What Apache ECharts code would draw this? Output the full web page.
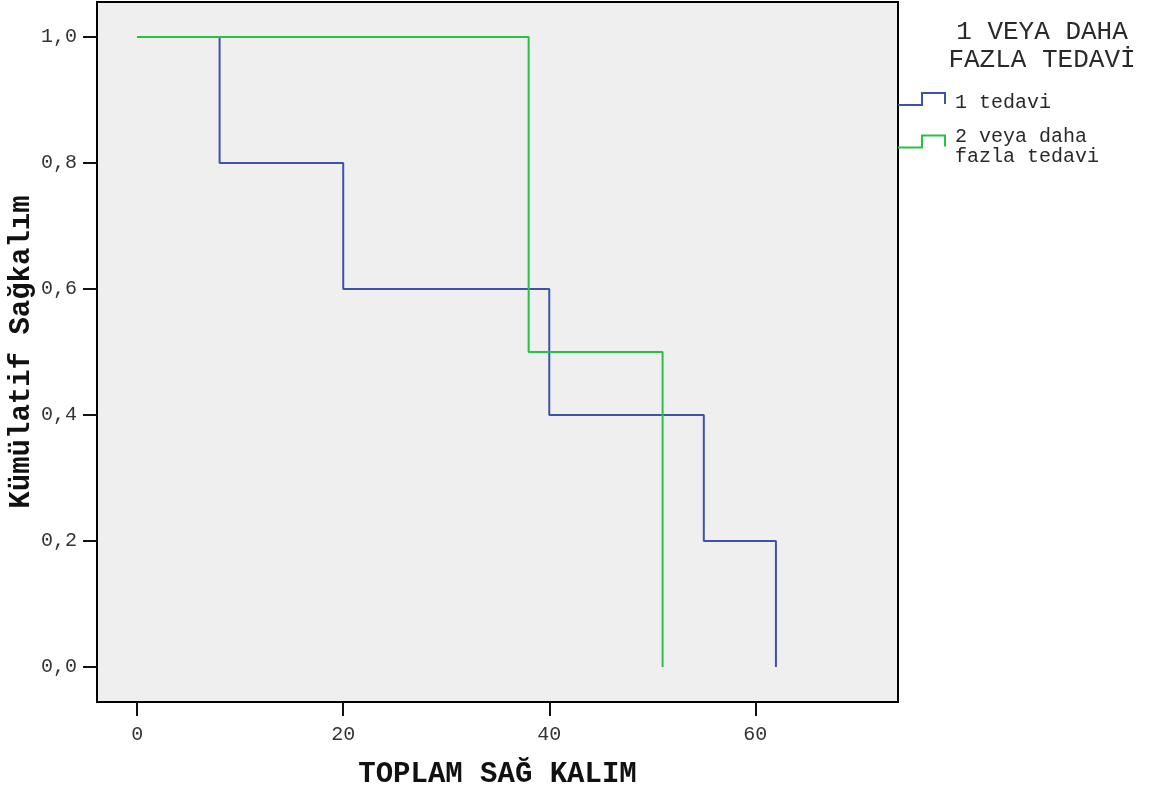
<!DOCTYPE html>
<html lang="tr">
<head>
    <meta charset="UTF-8">
    <title>Kaplan-Meier</title>
    <script src="https://cdn.jsdelivr.net/npm/echarts@6/dist/echarts.min.js"></script>
    <style>
        body { margin: 0; padding: 0; background: #fff; }
        #main { width: 1149px; height: 796px; }
    </style>
</head>
<body>
    <div id="main"></div>
    <script type="text/javascript">
        // veriler
        var seriesNames = ['1 tedavi', '2 veya daha\nfazla tedavi'];
        var oneTimes = [0, 8, 20, 40, 55, 62];
        var oneSurv = [1, 0.8, 0.6, 0.4, 0.2, 0];
        var twoTimes = [0, 38, 51];
        var twoSurv = [1, 0.5, 0];
        var xTicks = [0, 20, 40, 60];
        var yTicks = [0, 0.2, 0.4, 0.6, 0.8, 1.0];

        var FONT = '"Liberation Mono", "Courier New", monospace';

        function pairs(xs, ys) {
            var out = [];
            for (var i = 0; i < xs.length; i++) out.push([xs[i], ys[i]]);
            return out;
        }

        // basamak ikonu: ince cerceve, alt kosede gorunmez bir nokta ile kutu boyu ayarlanir
        function stepIcon(h) {
            return 'path://M0,12 L23,12 L23,0 L48,0 L48,12 L46,12 L46,2 L25,2 L25,14 L0,14 Z' +
                ' M51.95,' + (h - 0.05) + ' L52,' + h + ' L51.95,' + h + ' Z';
        }

        var legendText = {
            fontFamily: FONT,
            fontSize: 20,
            lineHeight: 20,
            color: '#2a2a2a'
        };

        var myChart = echarts.init(document.getElementById('main'));

        var option = {
            animation: false,
            backgroundColor: '#fff',
            title: {
                text: '1 VEYA DAHA\nFAZLA TEDAVİ',
                left: 1042,
                top: 18,
                textAlign: 'center',
                padding: 0,
                textStyle: {
                    fontFamily: FONT,
                    fontSize: 26,
                    fontWeight: 'normal',
                    color: '#2a2a2a',
                    lineHeight: 28
                }
            },
            legend: [{
                orient: 'vertical',
                left: 898,
                top: 92,
                padding: 0,
                itemWidth: 52,
                itemHeight: 22,
                symbolKeepAspect: false,
                icon: stepIcon(22),
                data: [seriesNames[0]],
                textStyle: legendText
            }, {
                orient: 'vertical',
                left: 898,
                top: 127,
                padding: 0,
                itemWidth: 52,
                itemHeight: 25,
                symbolKeepAspect: false,
                icon: stepIcon(25),
                data: [seriesNames[1]],
                textStyle: legendText
            }],
            grid: {
                left: 97,
                right: 251,
                top: 2,
                bottom: 94,
                outerBoundsMode: 'none',
                show: true,
                backgroundColor: '#efefef',
                borderColor: '#000',
                borderWidth: 2
            },
            xAxis: {
                type: 'value',
                min: -3.9,
                max: 73.85,
                name: 'TOPLAM SAĞ KALIM',
                nameLocation: 'middle',
                nameGap: 58,
                nameMoveOverlap: false,
                nameTextStyle: {
                    fontFamily: FONT,
                    fontSize: 29,
                    fontWeight: 'bold',
                    color: '#111'
                },
                axisLine: { show: true, onZero: false, lineStyle: { color: '#000', width: 2 } },
                axisTick: {
                    show: true,
                    length: 14,
                    customValues: xTicks,
                    lineStyle: { color: '#111', width: 2 }
                },
                axisLabel: {
                    customValues: xTicks,
                    margin: 23,
                    fontFamily: FONT,
                    fontSize: 20,
                    color: '#333'
                },
                splitLine: { show: false }
            },
            yAxis: {
                type: 'value',
                min: -0.0556,
                max: 1.0556,
                name: 'Kümülatif Sağkalım',
                nameLocation: 'middle',
                nameGap: 61,
                nameMoveOverlap: false,
                nameTextStyle: {
                    fontFamily: FONT,
                    fontSize: 29,
                    fontWeight: 'bold',
                    color: '#111'
                },
                axisLine: { show: true, onZero: false, lineStyle: { color: '#000', width: 2 } },
                axisTick: {
                    show: true,
                    length: 14,
                    customValues: yTicks,
                    lineStyle: { color: '#111', width: 2 }
                },
                axisLabel: {
                    customValues: yTicks,
                    margin: 20,
                    fontFamily: FONT,
                    fontSize: 20,
                    color: '#333',
                    formatter: function (v) {
                        return v.toFixed(1).replace('.', ',');
                    }
                },
                splitLine: { show: false }
            },
            series: [{
                name: seriesNames[0],
                type: 'line',
                step: 'end',
                showSymbol: false,
                symbol: 'none',
                color: '#3d53a9',
                lineStyle: { color: '#3d53a9', width: 2 },
                data: pairs(oneTimes, oneSurv)
            }, {
                name: seriesNames[1],
                type: 'line',
                step: 'end',
                showSymbol: false,
                symbol: 'none',
                color: '#2cbf46',
                lineStyle: { color: '#2cbf46', width: 2 },
                data: pairs(twoTimes, twoSurv)
            }]
        };

        myChart.setOption(option);
    </script>
</body>
</html>
